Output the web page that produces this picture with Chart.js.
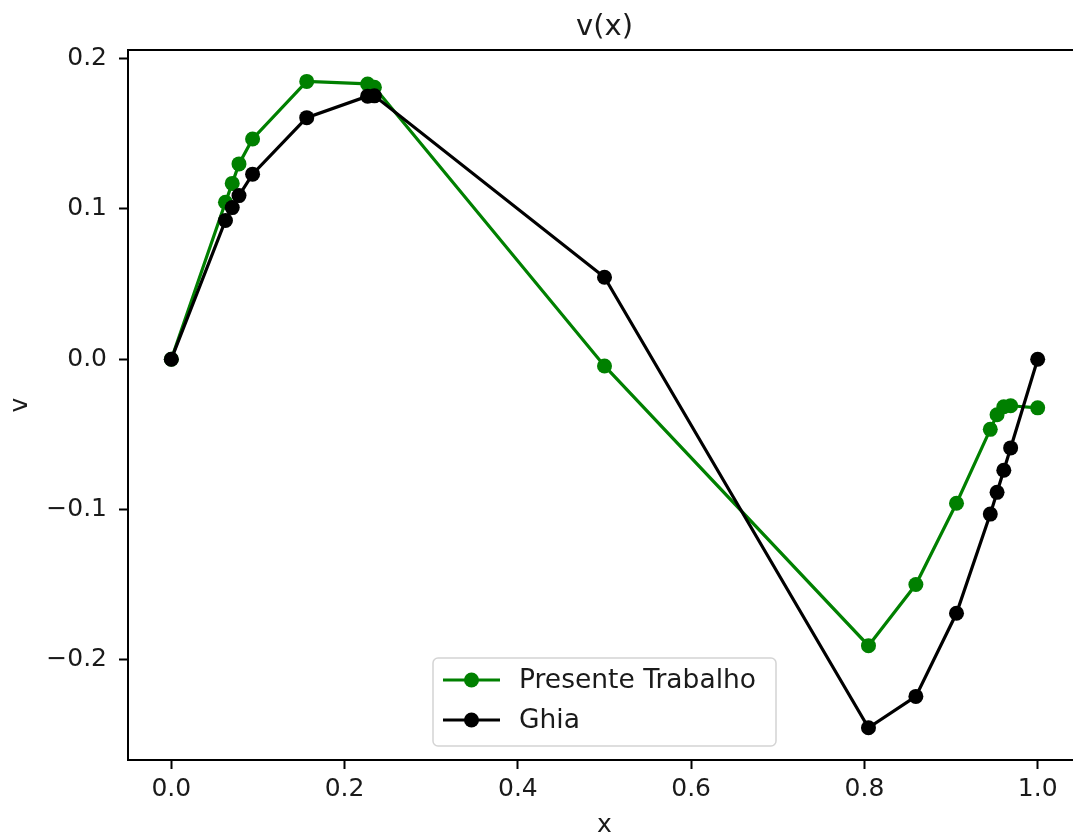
<!DOCTYPE html>
<html>
<head>
<meta charset="utf-8">
<script src="https://cdn.jsdelivr.net/npm/chart.js@4.4.0/dist/chart.umd.min.js"></script>
<style>
  html, body { margin: 0; padding: 0; background: #fff; overflow: hidden; }
  canvas { display: block; }
</style>
</head>
<body>
<canvas id="vplot" width="1095" height="838"></canvas>
<script>
// sample positions along the horizontal centreline
const xPos = [0.0000, 0.0625, 0.0703, 0.0781, 0.0938, 0.1563, 0.2266, 0.2344, 0.5000,
              0.8047, 0.8594, 0.9063, 0.9453, 0.9531, 0.9609, 0.9688, 1.0000];
const vPresente = [0.0000, 0.1045, 0.1170, 0.1300, 0.1466, 0.1849, 0.1832, 0.1810, -0.0045,
                   -0.1907, -0.1500, -0.0959, -0.0467, -0.0370, -0.0317, -0.0310, -0.0324];
const vGhia = [0.00000, 0.09233, 0.10091, 0.10890, 0.12317, 0.16077, 0.17507, 0.17527, 0.05454,
               -0.24533, -0.22445, -0.16914, -0.10313, -0.08864, -0.07391, -0.05906, 0.00000];
const seriesNames = ['Presente Trabalho', 'Ghia'];
const xTicks = [0.0, 0.2, 0.4, 0.6, 0.8, 1.0];
const yTicks = [-0.2, -0.1, 0.0, 0.1, 0.2];

const FONT = "'DejaVu Sans', sans-serif";
const GREEN = '#008000';
const BLACK = '#000000';
const TEXT = '#1a1a1a';

const toPoints = ys => xPos.map((x, i) => ({ x: x, y: ys[i] }));
const fmt = v => v.toFixed(1).replace('-', '\u2212');

// box around the plot, title and an inset legend
const decorations = {
  id: 'decorations',
  afterDraw(chart) {
    const { ctx, chartArea: a } = chart;
    ctx.save();
    ctx.strokeStyle = BLACK;
    ctx.lineWidth = 2;
    ctx.strokeRect(a.left, a.top, a.right - a.left, a.bottom - a.top);

    ctx.fillStyle = TEXT;
    ctx.font = '29px ' + FONT;
    ctx.textAlign = 'center';
    ctx.textBaseline = 'middle';
    ctx.fillText('v(x)', (a.left + a.right) / 2, 27);

    // legend
    const lx = 433, ly = 658, lw = 343, lh = 88;
    ctx.beginPath();
    ctx.roundRect(lx, ly, lw, lh, 5);
    ctx.fillStyle = 'rgba(255,255,255,0.8)';
    ctx.fill();
    ctx.strokeStyle = '#d4d4d4';
    ctx.lineWidth = 1.5;
    ctx.stroke();
    const colors = [GREEN, BLACK];
    seriesNames.forEach((name, i) => {
      const y = 680 + i * 40;
      ctx.strokeStyle = colors[i];
      ctx.lineWidth = 3.2;
      ctx.beginPath();
      ctx.moveTo(443, y);
      ctx.lineTo(500, y);
      ctx.stroke();
      ctx.fillStyle = colors[i];
      ctx.beginPath();
      ctx.arc(471.5, y, 7.5, 0, Math.PI * 2);
      ctx.fill();
      ctx.fillStyle = TEXT;
      ctx.font = '26.5px ' + FONT;
      ctx.textAlign = 'left';
      ctx.fillText(name, 519, y + 1);
    });
    ctx.restore();
  }
};

new Chart(document.getElementById('vplot'), {
  type: 'line',
  data: {
    datasets: [
      {
        label: seriesNames[0],
        data: toPoints(vPresente),
        borderColor: GREEN,
        backgroundColor: GREEN,
        borderWidth: 3.2,
        pointRadius: 7.5,
        pointBorderWidth: 0,
        pointBackgroundColor: GREEN,
        tension: 0,
        order: 1
      },
      {
        label: seriesNames[1],
        data: toPoints(vGhia),
        borderColor: BLACK,
        backgroundColor: BLACK,
        borderWidth: 3.2,
        pointRadius: 7.5,
        pointBorderWidth: 0,
        pointBackgroundColor: BLACK,
        tension: 0,
        order: 0
      }
    ]
  },
  options: {
    responsive: false,
    animation: false,
    layout: { padding: { top: 50, right: 14, left: 0, bottom: 0 } },
    plugins: {
      legend: { display: false },
      title: { display: false },
      tooltip: { enabled: false }
    },
    scales: {
      x: {
        type: 'linear',
        min: -0.05,
        max: 1.05,
        afterBuildTicks: s => { s.ticks = xTicks.map(v => ({ value: v })); },
        afterFit: s => { s.height = 78; },
        grid: { drawOnChartArea: false, drawTicks: true, tickLength: 9, tickWidth: 2, color: BLACK },
        border: { color: BLACK, width: 2 },
        ticks: {
          color: TEXT,
          font: { family: FONT, size: 25 },
          padding: 5,
          maxRotation: 0,
          callback: v => fmt(v)
        },
        title: {
          display: true,
          text: 'x',
          color: TEXT,
          font: { family: FONT, size: 25, lineHeight: 1.0 },
          padding: { top: 0, bottom: 0 }
        }
      },
      y: {
        type: 'linear',
        min: -0.2668,
        max: 0.2058,
        afterBuildTicks: s => { s.ticks = yTicks.map(v => ({ value: v })); },
        afterFit: s => { s.width = 128; },
        grid: { drawOnChartArea: false, drawTicks: true, tickLength: 9, tickWidth: 2, color: BLACK },
        border: { color: BLACK, width: 2 },
        ticks: {
          color: TEXT,
          font: { family: FONT, size: 25 },
          padding: 12,
          callback: v => fmt(v)
        },
        title: {
          display: true,
          text: 'v',
          color: TEXT,
          font: { family: FONT, size: 25 },
          padding: { top: 5, bottom: 0 }
        }
      }
    }
  },
  plugins: [decorations]
});
</script>
</body>
</html>
